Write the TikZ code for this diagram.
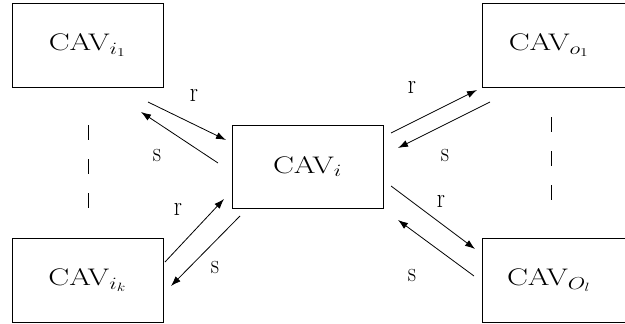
\documentclass[tikz,border=0pt]{standalone}
\usepackage{graphicx}
\usepackage{fontspec}
\usetikzlibrary{arrows.meta}
\newcommand{\wide}[1]{\scalebox{1.3}[1]{#1}}
\newcommand{\tall}[1]{\scalebox{1}[1.2]{#1}}
\begin{document}
\begin{tikzpicture}[x=1pt,y=-1pt,
  cav/.style={draw,line width=0.9pt,minimum width=151pt,minimum height=84pt,inner sep=0pt,font=\fontsize{24}{28}\selectfont},
  conn/.style={line width=0.8pt,-{Latex[length=10pt,width=7pt]}},
  lbl/.style={font=\fontsize{23}{27}\selectfont,inner sep=0pt},
  dashline/.style={line width=0.9pt,dash pattern=on 15pt off 19pt}]
\useasboundingbox (0,0) rectangle (625,324);
\node[cav] (i1) at (87.5,45) {\wide{CAV$_{i_1}$}};
\node[cav] (ik) at (87.5,280) {\wide{CAV$_{i_k}$}};
\node[cav,minimum height=83pt] (i) at (307.5,166.5) {\wide{CAV$_i$}};
\node[cav] (o1) at (557.5,45) {\hspace*{-17pt}\wide{CAV$_{o_1}$}};
\node[cav] (ol) at (557.5,280) {\hspace*{-17pt}\wide{CAV$_{O_l}$}};
% endpoints
\coordinate (a1) at (148,102); \coordinate (a2) at (226,140);
\coordinate (b1) at (218,163); \coordinate (b2) at (141,112);
\coordinate (c1) at (165,262); \coordinate (c2) at (224,199);
\coordinate (d1) at (240,216); \coordinate (d2) at (171,286);
\coordinate (e1) at (391,133); \coordinate (e2) at (477,90);
\coordinate (f1) at (490,102); \coordinate (f2) at (398,148);
\coordinate (g1) at (391,186); \coordinate (g2) at (475,249);
\coordinate (h1) at (474,276); \coordinate (h2) at (398,220);
\draw[conn] (a1) -- (a2);
\draw[conn] (b1) -- (b2);
\draw[conn] (c1) -- (c2);
\draw[conn] (d1) -- (d2);
\draw[conn] (e1) -- (e2);
\draw[conn] (f1) -- (f2);
\draw[conn] (g1) -- (g2);
\draw[conn] (h1) -- (h2);
\node[lbl] (lr1) at (194,95) {\tall{r}};
\node[lbl] (ls1) at (157,156) {\tall{s}};
\node[lbl] (lr2) at (178,209) {\tall{r}};
\node[lbl] (ls2) at (215,268) {\tall{s}};
\node[lbl] (lr3) at (412,87) {\tall{r}};
\node[lbl] (ls3) at (445,156) {\tall{s}};
\node[lbl] (lr4) at (441,201) {\tall{r}};
\node[lbl] (ls4) at (412,276) {\tall{s}};
\coordinate (dl1) at (88,125); \coordinate (dl2) at (88,209);
\coordinate (dr1) at (551,117); \coordinate (dr2) at (551,201);
\draw[dashline] (dl1) -- (dl2);
\draw[dashline] (dr1) -- (dr2);
\end{tikzpicture}
\end{document}
